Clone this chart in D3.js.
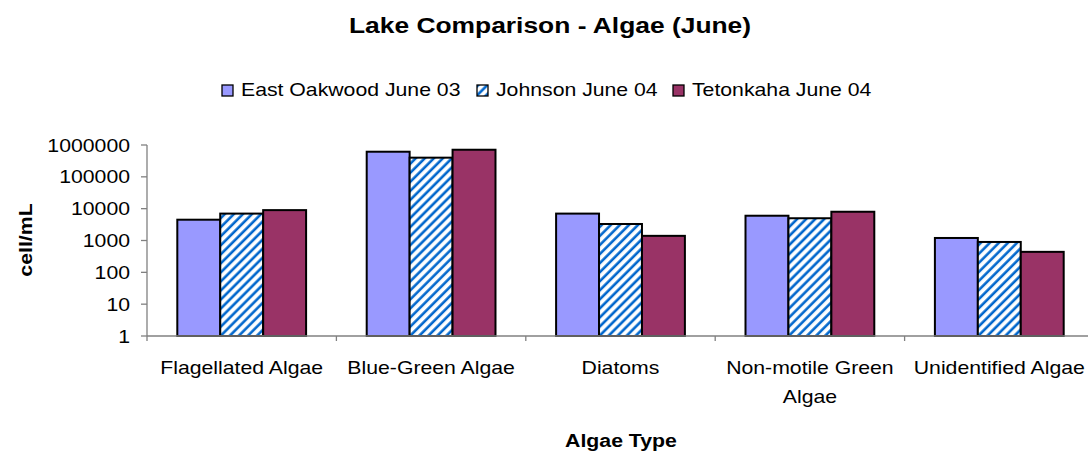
<!DOCTYPE html>
<html>
<head>
<meta charset="utf-8">
<script src="https://cdn.jsdelivr.net/npm/d3@7"></script>
<style>
  body { margin: 0; background: #fff; }
  svg { display: block; font-family: "Liberation Sans", Arial, sans-serif; }
</style>
</head>
<body>
<div class="canvas"></div>
<script>
const categories = ["Flagellated Algae", "Blue-Green Algae", "Diatoms", "Non-motile Green Algae", "Unidentified Algae"];
const seriesNames = ["East Oakwood June 03", "Johnson June 04", "Tetonkaha June 04"];
const eastOakwood = [4500, 615000, 7000, 6000, 1200];
const johnson = [7000, 400000, 3300, 5000, 900];
const tetonkaha = [9000, 710000, 1400, 8000, 440];
const yTicks = [1, 10, 100, 1000, 10000, 100000, 1000000];

const allSeries = [eastOakwood, johnson, tetonkaha];
const fills = ["#9999FF", "url(#stripes)", "#993366"];

const width = 1088, height = 451;
const stretch = 1.18;

const svg = d3.select(".canvas").append("svg")
    .attr("width", width)
    .attr("height", height);

// diagonal stripe pattern for Johnson
const pat = svg.append("defs").append("pattern")
    .attr("id", "stripes")
    .attr("patternUnits", "userSpaceOnUse")
    .attr("width", 6.4)
    .attr("height", 6.4)
    .attr("patternTransform", "rotate(45)");
pat.append("rect").attr("width", 6.4).attr("height", 6.4).attr("fill", "#fff");
pat.append("line")
    .attr("x1", 1.6).attr("y1", 0).attr("x2", 1.6).attr("y2", 6.4)
    .attr("stroke", "#0066CC").attr("stroke-width", 2.6);

// stretched text helper (the original renders text wide)
function label(parent, x, y, txt, opts) {
    opts = opts || {};
    const g = parent.append("g")
        .attr("transform", `translate(${x},${y}) ${opts.rotate ? "rotate(" + opts.rotate + ")" : ""} scale(${opts.sx || stretch},1)`);
    return g.append("text")
        .attr("text-anchor", opts.anchor || "middle")
        .attr("font-size", opts.size || 18)
        .attr("font-weight", opts.bold ? "bold" : "normal")
        .attr("fill", "#000")
        .text(txt);
}

const x0 = d3.scaleBand().domain(categories).range([147, 1094]).padding(0);
const x1 = d3.scaleBand().domain(d3.range(seriesNames.length))
    .range([x0.step() * 0.16, x0.step() * 0.84]).padding(0);
const y = d3.scaleLog().domain([1, 1000000]).range([336, 145]);

// title
label(svg, 550, 33, "Lake Comparison - Algae (June)", {size: 22, bold: true, sx: 1.2});

// legend
const legendX = [222, 477, 673];
seriesNames.forEach((name, i) => {
    svg.append("rect")
        .attr("x", legendX[i]).attr("y", 85)
        .attr("width", 11).attr("height", 11)
        .attr("fill", fills[i])
        .attr("stroke", "#000").attr("stroke-width", 1.3);
    label(svg, legendX[i] + 19, 96, name, {anchor: "start", size: 18});
});

// bars
const groups = svg.append("g").selectAll("g")
    .data(categories)
    .enter().append("g")
    .attr("transform", d => `translate(${x0(d)},0)`);

groups.selectAll("rect")
    .data((d, ci) => allSeries.map((s, si) => ({si: si, v: s[ci]})))
    .enter().append("rect")
    .attr("x", d => x1(d.si))
    .attr("width", x1.bandwidth())
    .attr("y", d => y(d.v))
    .attr("height", d => y(1) - y(d.v))
    .attr("fill", d => fills[d.si])
    .attr("stroke", "#000")
    .attr("stroke-width", 2);

// y axis
const axisColor = "#808080";
svg.append("line")
    .attr("x1", 147).attr("x2", 147).attr("y1", y(1000000)).attr("y2", y(1) + 5)
    .attr("stroke", axisColor).attr("stroke-width", 1.3);
yTicks.forEach(t => {
    svg.append("line")
        .attr("x1", 141).attr("x2", 147).attr("y1", y(t)).attr("y2", y(t))
        .attr("stroke", axisColor).attr("stroke-width", 1.3);
    label(svg, 130, y(t) + 6.5, d3.format("d")(t), {anchor: "end", size: 18});
});

// x axis
svg.append("line")
    .attr("x1", 147).attr("x2", width).attr("y1", y(1)).attr("y2", y(1))
    .attr("stroke", axisColor).attr("stroke-width", 1.3);
categories.forEach((c, i) => {
    const bx = x0(c) + x0.step();
    svg.append("line")
        .attr("x1", bx).attr("x2", bx).attr("y1", y(1)).attr("y2", y(1) + 5)
        .attr("stroke", axisColor).attr("stroke-width", 1.3);
});

// category labels (wrap the long one)
categories.forEach(c => {
    const cx = x0(c) + x0.step() / 2;
    const lines = c === "Non-motile Green Algae" ? ["Non-motile Green", "Algae"] : [c];
    lines.forEach((ln, k) => label(svg, cx, 374 + k * 29, ln, {size: 18}));
});

// axis titles
label(svg, 621, 447, "Algae Type", {size: 18.5, bold: true, sx: 1.15});
label(svg, 32, 240, "cell/mL", {size: 18.5, bold: true, sx: 1.15, rotate: -90});
</script>
</body>
</html>
